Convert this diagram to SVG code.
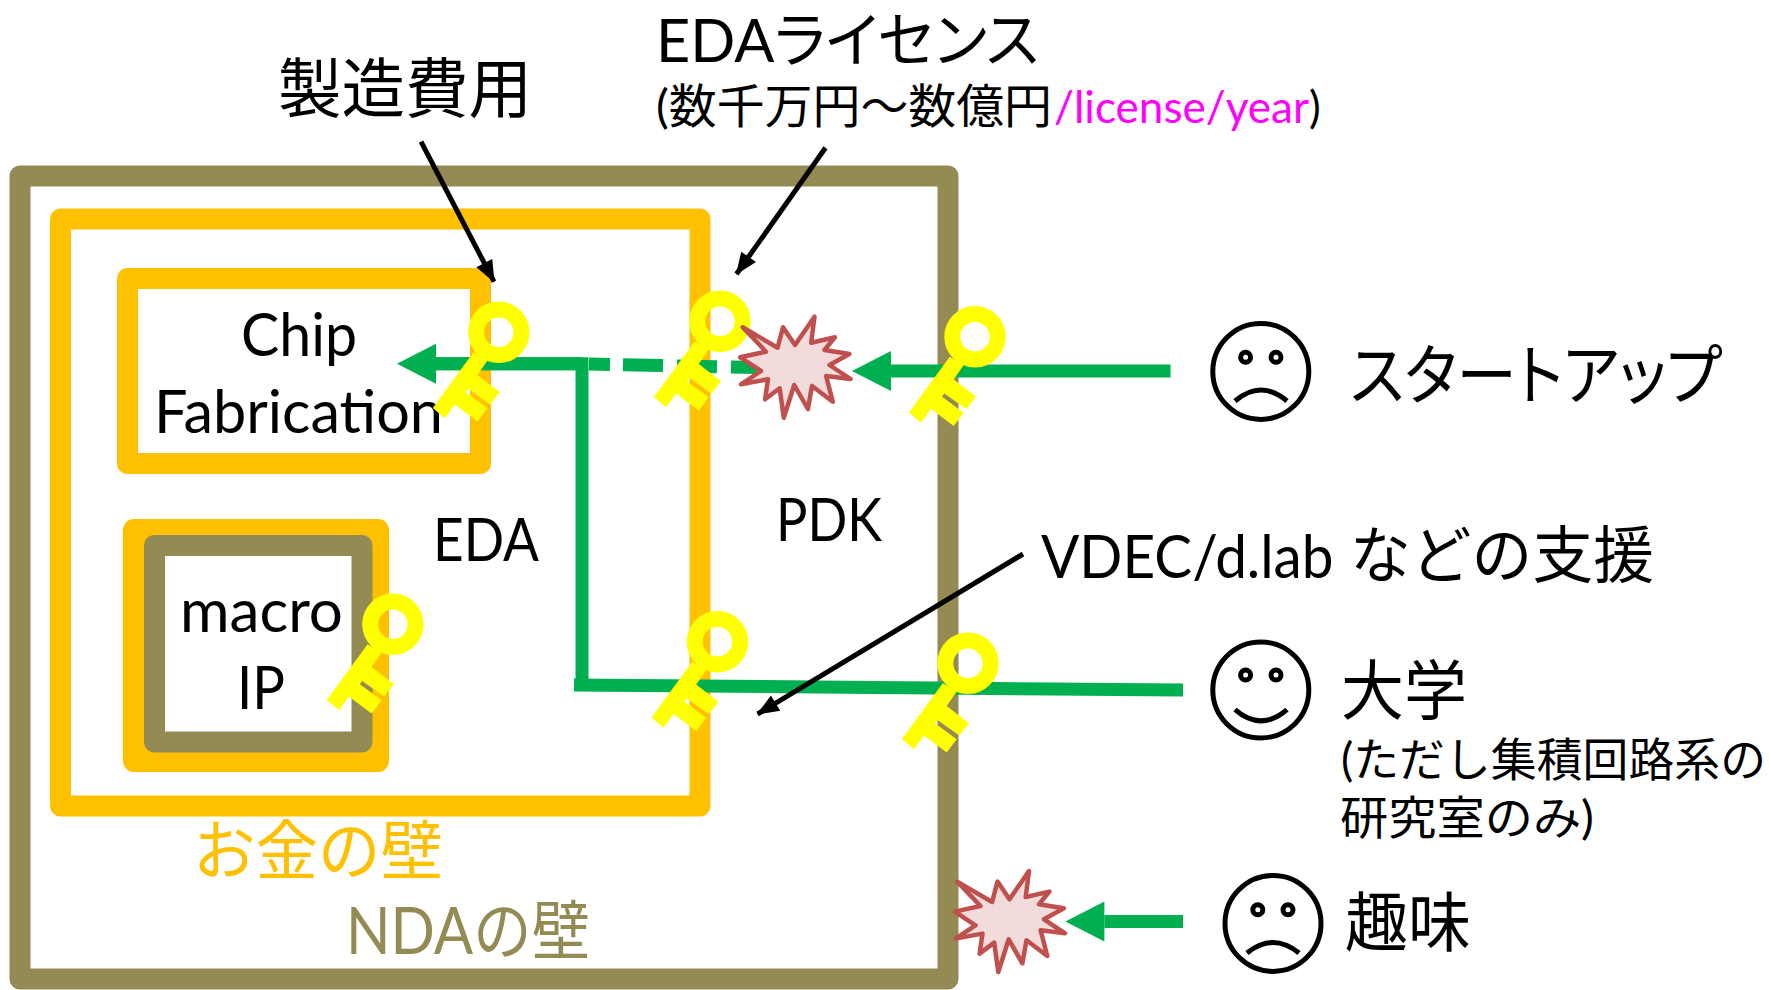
<svg xmlns="http://www.w3.org/2000/svg" width="1769" height="990" viewBox="0 0 1769 990">
<style>
text{font-family:"Lato","Noto Sans CJK JP",sans-serif;fill:#000}
.palt{font-feature-settings:"palt"}
.wall-o{fill:none;stroke:#948a54;stroke-width:21;stroke-linejoin:round}
.wall-m{fill:none;stroke:#ffc000;stroke-width:21;stroke-linejoin:round}
.g{fill:none;stroke:#00b050;stroke-width:13}
.b{fill:none;stroke:#000;stroke-width:5}
.face{fill:none;stroke:#000;stroke-width:5}
.star{fill:#f2dcdb;stroke:#c0504d;stroke-width:4.5;stroke-linejoin:round}
.l{font-size:60px}
.m{font-size:46px}
.x{font-size:65px}
</style>
<defs>
<marker id="ga" markerUnits="userSpaceOnUse" markerWidth="40" markerHeight="40" refX="0" refY="20" orient="auto" overflow="visible"><path d="M0 0L39 20L0 40Z" fill="#00b050"/></marker>
<marker id="ba" markerUnits="userSpaceOnUse" markerWidth="24" markerHeight="20" refX="21" refY="9" orient="auto" overflow="visible"><path d="M0 0L22 9L0 18Z" fill="#000"/></marker>
<g id="key">
<polygon fill="#ff0" points="-25.3,20 -66,75.7 -54,86 -44,72.3 -21.3,89.3 -11.3,76 -33,60 -30.7,56.7 -8.7,72.3 1,60 -21.3,42.7 -11.3,28.3"/>
<circle r="22.7" fill="none" stroke="#ff0" stroke-width="16"/>
</g>
<polygon id="burst" class="star" points="814.5,316.7 811.2,342.7 834.9,337.3 824.5,350 849.4,354 829.5,365 850.6,379 826.1,376 832.8,401.7 812,386 807.9,409 794.2,385 783.8,417.7 779.7,388.3 765.1,399.3 768,379.3 741,384.3 761,371 740.2,357.3 766,351.7 742.7,327.3 777.6,347.7 783,327.3 795,345"/>
</defs>
<rect width="1769" height="990" fill="#fff"/>

<g id="nda-wall">
<rect class="wall-o" x="20" y="176" width="928" height="803"/>
<text x="346" y="954" class="x" style="fill:#948a54" textLength="244" lengthAdjust="spacingAndGlyphs">NDAの壁</text>
</g>
<g id="money-wall">
<rect class="wall-m" x="60.5" y="219" width="639.5" height="587"/>
<text x="193" y="874" class="x" style="fill:#ffc000" textLength="250" lengthAdjust="spacingAndGlyphs">お金の壁</text>
</g>
<g id="chip">
<rect class="wall-m" x="127.5" y="278.5" width="353" height="185"/>
<text x="241" y="356" class="l" textLength="116" lengthAdjust="spacingAndGlyphs">Chip</text>
<text x="154" y="433" class="l" textLength="289" lengthAdjust="spacingAndGlyphs">Fabrication</text>
</g>
<g id="macro">
<rect x="123" y="519" width="266" height="253" rx="11" fill="#ffc000"/>
<rect class="wall-o" x="154.5" y="545.5" width="207.5" height="196.5" style="fill:#fff"/>
<text x="180" y="632" class="l" textLength="163" lengthAdjust="spacingAndGlyphs">macro</text>
<text x="237" y="709" class="l" textLength="48" lengthAdjust="spacingAndGlyphs">IP</text>
</g>
<g id="eda-label"><text x="433" y="561" class="l" textLength="106" lengthAdjust="spacingAndGlyphs">EDA</text></g>
<g id="pdk-label"><text x="776" y="541" class="l" textLength="106" lengthAdjust="spacingAndGlyphs">PDK</text></g>

<g id="connectors">
<path class="g" d="M436 363.7H582V685"/>
<line class="g" x1="1170.6" y1="371" x2="891" y2="371" marker-end="url(#ga)"/>
<line class="g" x1="589" y1="364" x2="757" y2="367.6" stroke-dasharray="21 13 40 14 40 14 40"/>
<path class="g" d="M574 685L1183 690"/>
<line class="g" x1="582" y1="363.7" x2="436" y2="363.7" marker-end="url(#ga)"/>
<line class="g" x1="1183" y1="921.6" x2="1104.4" y2="921.6" marker-end="url(#ga)"/>
<line class="b" x1="421" y1="141.7" x2="494" y2="281.7" marker-end="url(#ba)"/>
<line class="b" x1="825.5" y1="147.7" x2="736.5" y2="274" marker-end="url(#ba)"/>
<line class="b" x1="1023" y1="554" x2="757.6" y2="714" marker-end="url(#ba)"/>
</g>

<g id="keys">
<use href="#key" x="498.8" y="332.3"/>
<use href="#key" x="720" y="321.3"/>
<use href="#key" x="975" y="336.7"/>
<use href="#key" x="392.9" y="624.3"/>
<use href="#key" x="717.5" y="641.7"/>
<use href="#key" x="968" y="663.3"/>
</g>
<g id="bursts">
<use href="#burst"/>
<use href="#burst" x="214.5" y="554.3"/>
</g>

<g id="label-cost"><text x="278" y="112" font-size="65" textLength="254" lengthAdjust="spacingAndGlyphs">製造費用</text></g>
<g id="label-license">
<text class="palt" x="656" y="62" font-size="60" textLength="383" lengthAdjust="spacingAndGlyphs">EDAライセンス</text>
<text x="656" y="123" font-size="47"><tspan textLength="396" lengthAdjust="spacingAndGlyphs">(数千万円～数億円</tspan><tspan x="1054" font-size="44" style="fill:#f0f" textLength="255" lengthAdjust="spacingAndGlyphs">/license/year</tspan><tspan x="1309" font-size="44">)</tspan></text>
</g>
<g id="label-vdec"><text x="1041" y="578" font-size="60"><tspan textLength="307" lengthAdjust="spacingAndGlyphs">VDEC/d.lab </tspan><tspan x="1350" font-size="62" textLength="304" lengthAdjust="spacingAndGlyphs">などの支援</tspan></text></g>

<g id="startup">
<circle class="face" cx="1260.8" cy="371.4" r="48"/>
<circle class="face" cx="1245.6" cy="357.3" r="5"/><circle class="face" cx="1276" cy="357.3" r="5"/>
<path class="face" d="M1235 401Q1261 379 1287 401"/>
<text class="palt" x="1350" y="399" font-size="66" textLength="372" lengthAdjust="spacingAndGlyphs">スタートアップ</text>
</g>
<g id="university">
<circle class="face" cx="1260.8" cy="690" r="48"/>
<circle class="face" cx="1245.6" cy="675" r="5"/><circle class="face" cx="1276" cy="675" r="5"/>
<path class="face" d="M1235 709.7Q1261 732 1287 709.7"/>
<text x="1341" y="714" font-size="65" textLength="126" lengthAdjust="spacingAndGlyphs">大学</text>
<text x="1341" y="776" class="m" textLength="425" lengthAdjust="spacingAndGlyphs">(ただし集積回路系の</text>
<text x="1340" y="834" class="m" textLength="254" lengthAdjust="spacingAndGlyphs">研究室のみ)</text>
</g>
<g id="hobby">
<circle class="face" cx="1273" cy="923.4" r="48"/>
<circle class="face" cx="1257.8" cy="909.7" r="5"/><circle class="face" cx="1288" cy="909.7" r="5"/>
<path class="face" d="M1247 953Q1273 932 1299 953"/>
<text x="1345" y="946" font-size="65" textLength="126" lengthAdjust="spacingAndGlyphs">趣味</text>
</g>
</svg>
